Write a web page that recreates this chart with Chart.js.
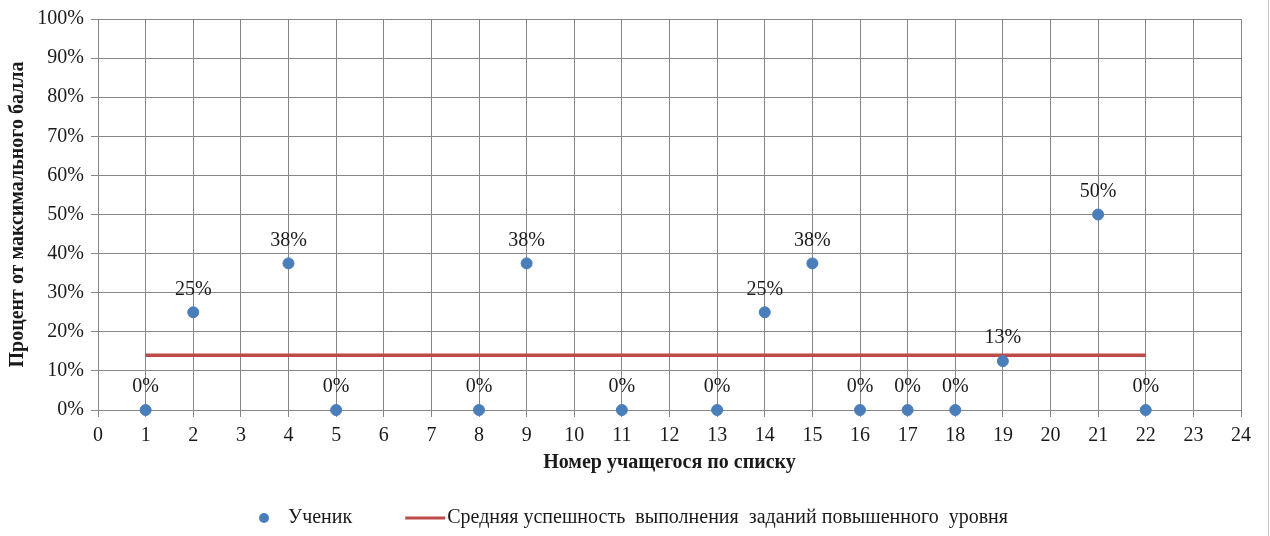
<!DOCTYPE html>
<html>
<head>
<meta charset="utf-8">
<script src="https://cdn.jsdelivr.net/npm/chart.js@4/dist/chart.umd.min.js"></script>
<style>
  html, body { margin: 0; padding: 0; background: #fff; }
  #wrap { width: 1270px; height: 536px; position: relative; }
</style>
</head>
<body>
<div id="wrap"><canvas id="resultChart"></canvas></div>
<script>
// student numbers and share of max score
const studentNumbers = [1, 2, 4, 5, 8, 9, 11, 13, 14, 15, 16, 17, 18, 19, 21, 22];
const studentScores = [0, 0.25, 0.375, 0, 0, 0.375, 0, 0, 0.25, 0.375, 0, 0, 0, 0.125, 0.5, 0];
// average line (from first to last student)
const averageX = [1, 22];
const averageY = [0.14, 0.14];

const xTitle = 'Номер учащегося по списку';
const yTitle = 'Процент от максимального балла';
const seriesNames = ['Ученик', 'Средняя успешность  выполнения  заданий повышенного  уровня'];

const serif = '"Liberation Serif", "Times New Roman", serif';
const gridColor = '#868686';
const blue = '#4a7ebb';
const red = '#be4b48';

const pointLabels = {
  id: 'pointLabels',
  afterDatasetsDraw(chart) {
    const { ctx } = chart;
    const meta = chart.getDatasetMeta(0);
    ctx.save();
    ctx.font = '20px ' + serif;
    ctx.fillStyle = '#1a1a1a';
    ctx.textAlign = 'center';
    ctx.textBaseline = 'middle';
    meta.data.forEach((pt, i) => {
      const v = chart.data.datasets[0].data[i].y;
      ctx.fillText(Math.round(v * 100) + '%', pt.x, pt.y - 23);
    });
    ctx.restore();
  }
};

const customLegend = {
  id: 'customLegend',
  afterDraw(chart) {
    const { ctx, width } = chart;
    ctx.save();
    ctx.font = '20px ' + serif;
    ctx.textBaseline = 'middle';
    const y = 518;
    const w1 = ctx.measureText(seriesNames[0]).width;
    const w2 = ctx.measureText(seriesNames[1]).width;
    const total = 6 + 24 + w1 + 53 + 40 + 2 + w2;
    let x = (width - total) / 2 - 2;
    ctx.fillStyle = blue;
    ctx.beginPath();
    ctx.arc(x + 6, y, 5, 0, Math.PI * 2);
    ctx.fill();
    x += 6 + 24;
    ctx.fillStyle = '#1a1a1a';
    ctx.fillText(seriesNames[0], x, y);
    x += w1 + 53;
    ctx.strokeStyle = red;
    ctx.lineWidth = 3;
    ctx.beginPath();
    ctx.moveTo(x, y);
    ctx.lineTo(x + 40, y);
    ctx.stroke();
    x += 42;
    ctx.fillText(seriesNames[1], x, y);
    // outer frame edge on the right
    ctx.strokeStyle = '#c8c8c8';
    ctx.lineWidth = 1;
    ctx.beginPath();
    ctx.moveTo(1268.5, 0);
    ctx.lineTo(1268.5, chart.height);
    ctx.stroke();
    ctx.restore();
  }
};

const ctx = document.getElementById('resultChart').getContext('2d');
const resultChart = new Chart(ctx, {
  type: 'scatter',
  data: {
    datasets: [
      {
        label: seriesNames[0],
        data: studentNumbers.map((n, i) => ({ x: n, y: studentScores[i] })),
        backgroundColor: blue,
        borderColor: blue,
        pointRadius: 5.5,
        pointHoverRadius: 5.5,
        showLine: false,
        clip: false,
        order: 1
      },
      {
        label: seriesNames[1],
        type: 'line',
        data: averageX.map((n, i) => ({ x: n, y: averageY[i] })),
        borderColor: red,
        backgroundColor: red,
        borderWidth: 3.5,
        pointRadius: 0,
        fill: false,
        order: 2
      }
    ]
  },
  options: {
    responsive: true,
    maintainAspectRatio: false,
    animation: false,
    layout: { padding: { top: 18, right: 29, bottom: 56, left: 0 } },
    scales: {
      x: {
        type: 'linear',
        min: 0,
        max: 24,
        grid: { color: gridColor, lineWidth: 1, tickLength: 7, tickColor: gridColor },
        border: { color: gridColor },
        ticks: { stepSize: 1, color: '#1a1a1a', font: { family: serif, size: 20 }, padding: 7, maxRotation: 0, autoSkip: false },
        title: { display: true, text: xTitle, color: '#1a1a1a', font: { family: serif, size: 20, weight: 'bold' }, padding: { top: 0, bottom: 5 } },
        afterFit(scale) { scale.height = 70; }
      },
      y: {
        min: 0,
        max: 1,
        grid: { color: gridColor, lineWidth: 1, tickLength: 7, tickColor: gridColor },
        border: { color: gridColor },
        ticks: {
          stepSize: 0.1,
          color: '#1a1a1a',
          font: { family: serif, size: 20 },
          padding: 7,
          callback: v => Math.round(v * 100) + '%'
        },
        title: { display: true, text: yTitle, color: '#1a1a1a', font: { family: serif, size: 20, weight: 'bold' }, padding: { top: 6, bottom: 0 } },
        afterFit(scale) { scale.width = 98; }
      }
    },
    plugins: {
      legend: { display: false },
      tooltip: { enabled: false }
    }
  },
  plugins: [pointLabels, customLegend]
});

window.resultChart = resultChart;
</script>
</body>
</html>
